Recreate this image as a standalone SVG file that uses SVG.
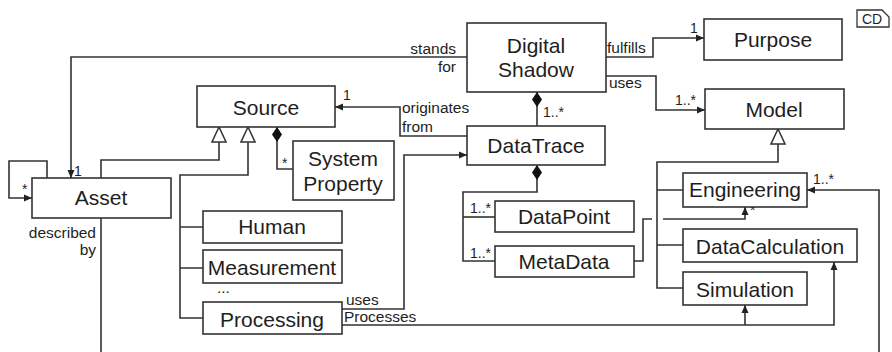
<svg xmlns="http://www.w3.org/2000/svg" width="892" height="352" viewBox="0 0 892 352">
<defs>
<style>
.box{fill:#fff;stroke:#333;stroke-width:1.6}
.t{font-family:"Liberation Sans",Arial,sans-serif;font-size:21px;fill:#1e1e1e;text-anchor:middle}
.l{font-family:"Liberation Sans",Arial,sans-serif;font-size:15.5px;fill:#1e1e1e}
.m{font-family:"Liberation Sans",Arial,sans-serif;font-size:14px;fill:#1e1e1e}
.c{fill:none;stroke:#333;stroke-width:1.6}
.a{marker-end:url(#arrow)}
.d{marker-start:url(#diamond)}
.g{marker-start:url(#gen)}
</style>
<marker id="arrow" markerUnits="userSpaceOnUse" markerWidth="9" markerHeight="8" refX="8" refY="4" orient="auto"><path d="M0,0.5 L8,4 L0,7.5 z" fill="#222"/></marker>
<marker id="diamond" markerUnits="userSpaceOnUse" markerWidth="16" markerHeight="11" refX="0" refY="5.5" orient="auto"><path d="M0,5.5 L7.5,0.5 L15,5.5 L7.5,10.5 z" fill="#111"/></marker>
<marker id="gen" markerUnits="userSpaceOnUse" markerWidth="17" markerHeight="16" refX="0.5" refY="8" orient="auto"><path d="M0.5,8 L15.5,1 L15.5,15 z" fill="#fff" stroke="#333" stroke-width="1.5"/></marker>
</defs>
<rect width="892" height="352" fill="#fff"/>

<g id="connectors">
<path class="c a" d="M467,57 H71 V178"/>
<path class="c a" d="M606,57 H653 V38 H704"/>
<path class="c a" d="M606,76 H656 V110 H705"/>
<path class="c d" d="M537,92 V126"/>
<path class="c a" d="M467,136 H400 V107 H335"/>
<path class="c d" d="M537,165 V192 H463 V261 H495"/>
<path class="c" d="M463,217 H495"/>
<path class="c d" d="M277,127 V169 H293"/>
<path class="c g" d="M219,127 V160 H101 V178"/>
<path class="c g" d="M248,127 V175 H180 V318 H203"/>
<path class="c" d="M180,227 H203 M180,268 H203"/>
<path class="c g" d="M778,129 V162 H657 V288 H683"/>
<path class="c" d="M657,190 H683 M657,245 H683"/>
<path class="c a" d="M47,178 V161 H9 V198 H32"/>
<path class="c" d="M101,218 V352"/>
<path class="c a" d="M342,309 H404 V155 H467"/>
<path class="c a" d="M342,325 H834 V262"/>
<path class="c a" d="M745,325 V305"/>
<path class="c" d="M634,261 H643 V219 H652"/>
<path class="c a" d="M663,219 H745 V207"/>
<path class="c a" d="M879,352 V190 H807"/>
<text class="l" x="456" y="54" text-anchor="end">stands</text>
<text class="l" x="456" y="72" text-anchor="end">for</text>
<text class="l" x="607" y="53">fulfills</text>
<text class="l" x="609" y="88">uses</text>
<text class="m" x="690" y="33">1</text>
<text class="m" x="675" y="105">1..*</text>
<text class="m" x="543" y="117">1..*</text>
<text class="l" x="402" y="113">originates</text>
<text class="l" x="402" y="132">from</text>
<text class="m" x="343" y="100">1</text>
<text class="m" x="282" y="168">*</text>
<text class="m" x="74" y="176">1</text>
<text class="m" x="22" y="194">*</text>
<text class="l" x="96" y="238" text-anchor="end">described</text>
<text class="l" x="96" y="255" text-anchor="end">by</text>
<text class="l" x="217" y="293">...</text>
<text class="l" x="346" y="305" font-size="15">uses</text>
<text class="l" x="344" y="322" font-size="15">Processes</text>
<text class="m" x="470" y="213">1..*</text>
<text class="m" x="470" y="258">1..*</text>
<text class="m" x="750" y="215">*</text>
<text class="m" x="813" y="184">1..*</text>
</g>

<g id="digital-shadow"><rect class="box" x="467" y="23" width="139" height="69"/><text class="t" x="536" y="53">Digital</text><text class="t" x="536" y="77">Shadow</text></g>
<g id="purpose"><rect class="box" x="704" y="19" width="138" height="41"/><text class="t" x="773" y="47">Purpose</text></g>
<g id="model"><rect class="box" x="705" y="89" width="139" height="40"/><text class="t" x="774" y="117">Model</text></g>
<g id="source"><rect class="box" x="197" y="86" width="138" height="41"/><text class="t" x="266" y="115">Source</text></g>
<g id="datatrace"><rect class="box" x="467" y="126" width="138" height="39"/><text class="t" x="536" y="153">DataTrace</text></g>
<g id="system-property"><rect class="box" x="293" y="141" width="101" height="59"/><text class="t" x="343" y="166">System</text><text class="t" x="343" y="191">Property</text></g>
<g id="asset"><rect class="box" x="32" y="178" width="139" height="40"/><text class="t" x="101" y="205">Asset</text></g>
<g id="human"><rect class="box" x="203" y="211" width="139" height="32"/><text class="t" x="272" y="234">Human</text></g>
<g id="measurement"><rect class="box" x="203" y="250" width="139" height="33"/><text class="t" x="272" y="275">Measurement</text></g>
<g id="processing"><rect class="box" x="203" y="302" width="139" height="32"/><text class="t" x="272" y="327">Processing</text></g>
<g id="datapoint"><rect class="box" x="495" y="201" width="139" height="31"/><text class="t" x="564" y="224">DataPoint</text></g>
<g id="metadata"><rect class="box" x="495" y="246" width="139" height="31"/><text class="t" x="564" y="269">MetaData</text></g>
<g id="engineering"><rect class="box" x="683" y="173" width="124" height="34"/><text class="t" x="745" y="197">Engineering</text></g>
<g id="datacalculation"><rect class="box" x="683" y="229" width="174" height="33"/><text class="t" x="770" y="254">DataCalculation</text></g>
<g id="simulation"><rect class="box" x="683" y="272" width="124" height="33"/><text class="t" x="745" y="297">Simulation</text></g>
<g id="cd-icon"><path d="M857,10 H882 L889,17 V27 H857 Z" fill="#fff" stroke="#333" stroke-width="1.3"/><text x="872" y="24" font-family="'Liberation Sans',Arial,sans-serif" font-size="14" fill="#1e1e1e" text-anchor="middle">CD</text></g>
</svg>
